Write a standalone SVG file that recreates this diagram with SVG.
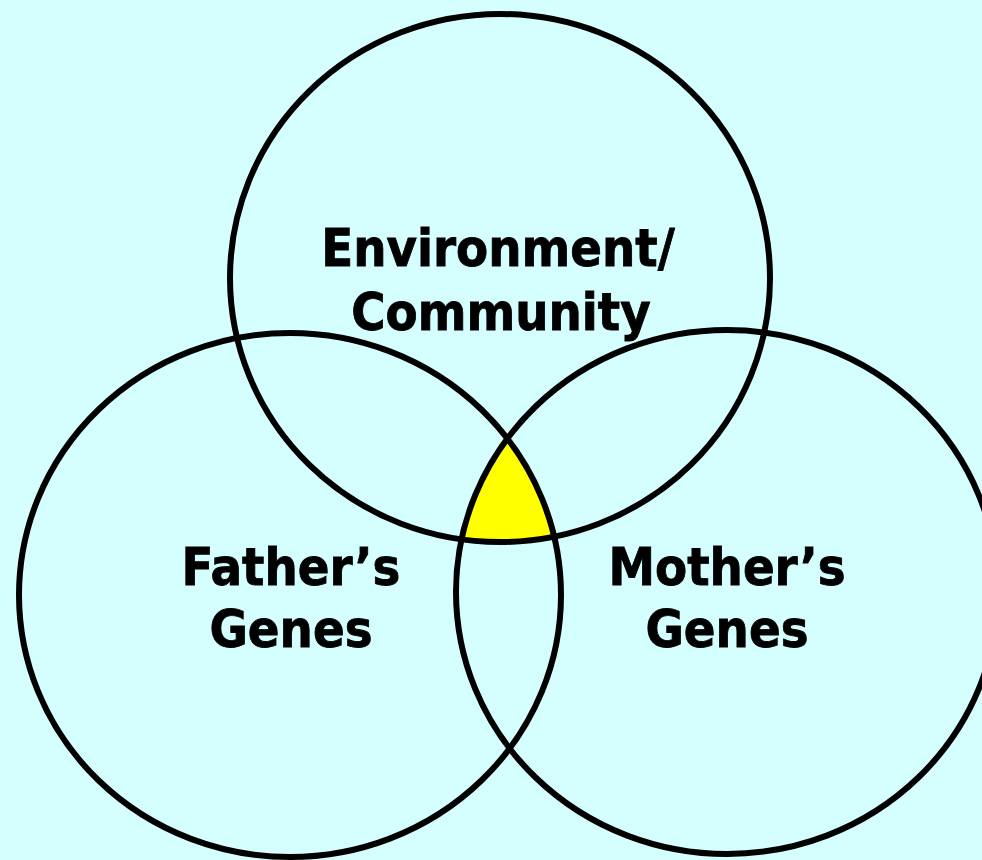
<svg xmlns="http://www.w3.org/2000/svg" width="982" height="860" viewBox="0 0 982 860">
<style>
.ring{fill:none;stroke:#000;stroke-width:6}
.lbl{font-family:"DejaVu Sans Condensed","DejaVu Sans",Verdana,sans-serif;font-stretch:condensed;font-weight:bold;font-size:52px;fill:#000;stroke:#000;stroke-width:0.8;text-anchor:middle}
</style>
<defs>
<clipPath id="cL"><ellipse cx="290" cy="595" rx="271" ry="262"/></clipPath>
<clipPath id="cR"><ellipse cx="727" cy="592" rx="271" ry="262"/></clipPath>
</defs>
<rect width="982" height="860" fill="#D5FFFF"/>
<g id="overlap" clip-path="url(#cL)">
<ellipse cx="500" cy="278" rx="270" ry="264" fill="#FFFF00" clip-path="url(#cR)"/>
</g>
<g id="environment">
<ellipse class="ring" cx="500" cy="278" rx="270" ry="264"/>
<text class="lbl" x="498" y="266">Environment/</text>
<text class="lbl" x="501" y="330">Community</text>
</g>
<g id="father">
<ellipse class="ring" cx="290" cy="595" rx="271" ry="262"/>
<text class="lbl" x="291" y="585">Father’s</text>
<text class="lbl" x="291" y="647">Genes</text>
</g>
<g id="mother">
<ellipse class="ring" cx="727" cy="592" rx="271" ry="262"/>
<text class="lbl" x="727" y="585">Mother’s</text>
<text class="lbl" x="727" y="647">Genes</text>
</g>
<g id="connectors"/>
</svg>
